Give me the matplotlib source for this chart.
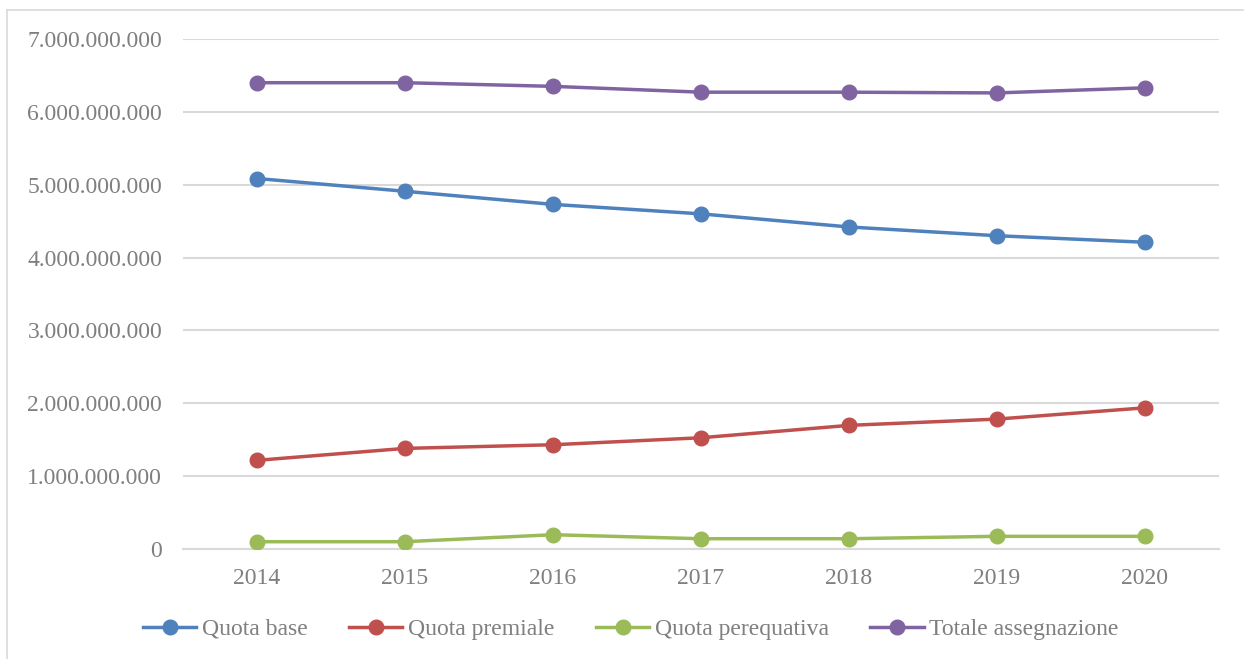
import matplotlib
matplotlib.use("Agg")
import matplotlib.pyplot as plt
from matplotlib.ticker import FuncFormatter
from matplotlib.lines import Line2D

years = ["2014", "2015", "2016", "2017", "2018", "2019", "2020"]
quota_base = [5.085e9, 4.91e9, 4.73e9, 4.60e9, 4.42e9, 4.30e9, 4.21e9]
quota_premiale = [1.217e9, 1.381e9, 1.431e9, 1.527e9, 1.697e9, 1.783e9, 1.938e9]
quota_perequativa = [0.100e9, 0.100e9, 0.196e9, 0.141e9, 0.141e9, 0.174e9, 0.174e9]
totale = [6.40e9, 6.40e9, 6.35e9, 6.27e9, 6.27e9, 6.26e9, 6.33e9]

series = [
    ("Quota base", quota_base, "#4F81BD"),
    ("Quota premiale", quota_premiale, "#C0504D"),
    ("Quota perequativa", quota_perequativa, "#9BBB59"),
    ("Totale assegnazione", totale, "#8064A2"),
]

plt.rcParams['font.family'] = ['Liberation Serif', 'DejaVu Serif']
text_color = "#7F7F7F"
fs = 17

fig = plt.figure(figsize=(12.44, 6.59), dpi=100)
ax = fig.add_axes([183/1244, 1-549/659, (1219-183)/1244, (549-39)/659])

x = list(range(len(years)))
for name, vals, col in series:
    ax.plot(x, vals, color=col, lw=2.5, marker="o", markersize=10.5, label=name,
            solid_capstyle="round", zorder=3)

ax.set_xlim(-0.5, len(years) - 0.5)
ax.set_ylim(0, 7e9)
ax.set_yticks([i * 1e9 for i in range(8)])
ax.yaxis.set_major_formatter(FuncFormatter(lambda v, p: f"{int(round(v)):,}".replace(",", ".")))
ax.set_xticks(x)
ax.set_xticklabels(years)
ax.grid(axis="y", color="#D9D9D9", lw=1.5, zorder=0)
ax.set_axisbelow(True)
for s in ["top", "right", "left"]:
    ax.spines[s].set_visible(False)
ax.spines["bottom"].set_color("#D9D9D9")
ax.spines["bottom"].set_linewidth(1.5)
ax.tick_params(axis="both", length=0, labelsize=fs, colors=text_color)
ax.tick_params(axis="y", pad=15)
ax.tick_params(axis="x", pad=14)

handles = [Line2D([0], [0], color=c, lw=2.5, marker="o", markersize=10.5) for _, _, c in series]
leg = fig.legend(handles, [n for n, _, _ in series], loc="center", bbox_to_anchor=(631/1244, 1-629/659),
                 ncol=4, frameon=False, fontsize=fs, handlelength=2.25, handletextpad=0.25,
                 columnspacing=1.75, borderpad=0, borderaxespad=0)
for t in leg.get_texts():
    t.set_color(text_color)

# outer chart border (left and top visible)
fig.add_artist(Line2D([7/1244, 7/1244], [0, 1-10/659], color="#D9D9D9", lw=1.2, transform=fig.transFigure))
fig.add_artist(Line2D([7/1244, 1], [1-10/659, 1-10/659], color="#D9D9D9", lw=1.2, transform=fig.transFigure))

fig.savefig("out.png", dpi=100)
